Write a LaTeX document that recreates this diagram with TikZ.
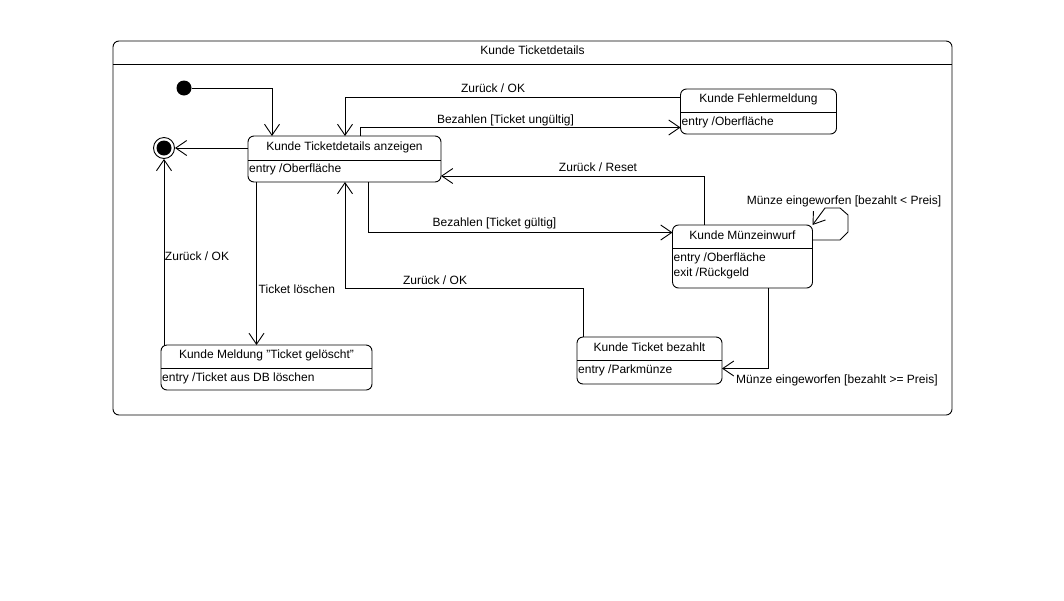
\documentclass[tikz,border=0pt]{standalone}
\usepackage{fontspec}
\setmainfont{Liberation Sans}
\usetikzlibrary{arrows.meta}
\begin{document}
\begin{tikzpicture}[x=1pt,y=-1pt,
        every node/.style={font=\fontsize{12}{14}\selectfont},
        statebox/.style={draw, rounded corners=6pt, line width=0.9pt, inner sep=0pt, outer sep=0pt},
        sepline/.style={line width=0.9pt},
        trans/.style={-{Straight Barb[length=11pt,width=15pt]}, line width=0.9pt},
        lbl/.style={inner sep=1pt, yshift=-1.5pt}]
        \useasboundingbox (0,0) rectangle (1064,600);

        % Outer state: Kunde Ticketdetails
        \node[statebox, minimum width=839pt, minimum height=374pt] (frame) at (532.5,228) {};
        \draw[sepline] (frame.west |- 0,64) -- (frame.east |- 0,64);
        \node[lbl] (frametitle) at (532.5,49) {Kunde Ticketdetails};

        % Pseudo states
        \node[circle, fill, minimum size=15pt, inner sep=0pt] (init) at (184,88) {};
        \node[circle, draw, line width=0.9pt, minimum size=21pt, inner sep=0pt] (final) at (164,148) {};
        \node[circle, fill, minimum size=15pt, inner sep=0pt] (finaldot) at (164,148) {};

        % States
        \node[statebox, minimum width=193pt, minimum height=46pt] (td) at (344.5,159) {};
        \draw[sepline] (td.west |- 0,160) -- (td.east |- 0,160);
        \node[lbl] (tdtitle) at (344.5,146) {Kunde Ticketdetails anzeigen};
        \node[lbl, anchor=west] (tdentry) at (248,168) {entry /Oberfläche};

        \node[statebox, minimum width=156pt, minimum height=45pt] (fehler) at (758.5,111.5) {};
        \draw[sepline] (fehler.west |- 0,112) -- (fehler.east |- 0,112);
        \node[lbl] (fehlertitle) at (758.5,98) {Kunde Fehlermeldung};
        \node[lbl, anchor=west] (fehlerentry) at (680.5,120.5) {entry /Oberfläche};

        \node[statebox, minimum width=140pt, minimum height=63pt] (muenz) at (742.5,256.5) {};
        \draw[sepline] (muenz.west |- 0,248) -- (muenz.east |- 0,248);
        \node[lbl] (muenztitle) at (742.5,234) {Kunde Münzeinwurf};
        \node[lbl, anchor=west] (muenzentry) at (672.5,256.5) {entry /Oberfläche};
        \node[lbl, anchor=west] (muenzexit) at (672.5,272) {exit /Rückgeld};

        \node[statebox, minimum width=145pt, minimum height=47pt] (bezahlt) at (649.5,360.5) {};
        \draw[sepline] (bezahlt.west |- 0,360) -- (bezahlt.east |- 0,360);
        \node[lbl] (bezahlttitle) at (649.5,346) {Kunde Ticket bezahlt};
        \node[lbl, anchor=west] (bezahltentry) at (577,368.5) {entry /Parkmünze};

        \node[statebox, minimum width=211pt, minimum height=45pt] (meldung) at (266.5,367.5) {};
        \draw[sepline] (meldung.west |- 0,368) -- (meldung.east |- 0,368);
        \node[lbl] (meldungtitle) at (266.5,354) {Kunde Meldung "Ticket gelöscht"};
        \node[lbl, anchor=west] (meldungentry) at (161,376.5) {entry /Ticket aus DB löschen};

        % Transitions
        \draw[trans] (init) -| (td.north -| 272,0);
        \draw[trans] (td.west |- 0,148) -- (final);
        \draw[trans] (fehler.west |- 0,97) -| (td.north -| 345,0);
        \node[lbl] (lokfehler) at (493,87) {Zurück / OK};
        \draw[trans] (td.north -| 360,0) |- (fehler.west |- 0,127.5);
        \node[lbl] (lungueltig) at (505.5,119) {Bezahlen [Ticket ungültig]};
        \draw[trans] (muenz.north -| 704.5,0) |- (td.east |- 0,176);
        \node[lbl] (lreset) at (598,166) {Zurück / Reset};
        \draw[trans] (td.south -| 368.5,0) |- (muenz.west |- 0,232.5);
        \node[lbl] (lgueltig) at (494.5,221.5) {Bezahlen [Ticket gültig]};
        \draw[trans] (muenz.east |- 0,240) -- (840,240) -- (848,232) -- (848,215) -- (840,208) -- (825,208) -- (muenz.north east);
        \node[lbl] (lkleiner) at (844,199.5) {Münze eingeworfen [bezahlt < Preis]};
        \draw[trans] (muenz.south -| 768,0) |- (bezahlt.east |- 0,368.5);
        \node[lbl, anchor=west] (lgroesser) at (735,379) {Münze eingeworfen [bezahlt >= Preis]};
        \draw[trans] (bezahlt.north -| 583.5,0) |- (345,288.5) -- (td.south -| 345,0);
        \node[lbl] (lokbezahlt) at (435,278.5) {Zurück / OK};
        \draw[trans] (td.south -| 256.5,0) -- (meldung.north -| 256.5,0);
        \node[lbl, anchor=west] (lloeschen) at (257.5,287.5) {Ticket löschen};
        \draw[trans] (meldung.north -| 164,0) -- (final);
        \node[lbl] (lokmeldung) at (197,254.5) {Zurück / OK};
\end{tikzpicture}
\end{document}
